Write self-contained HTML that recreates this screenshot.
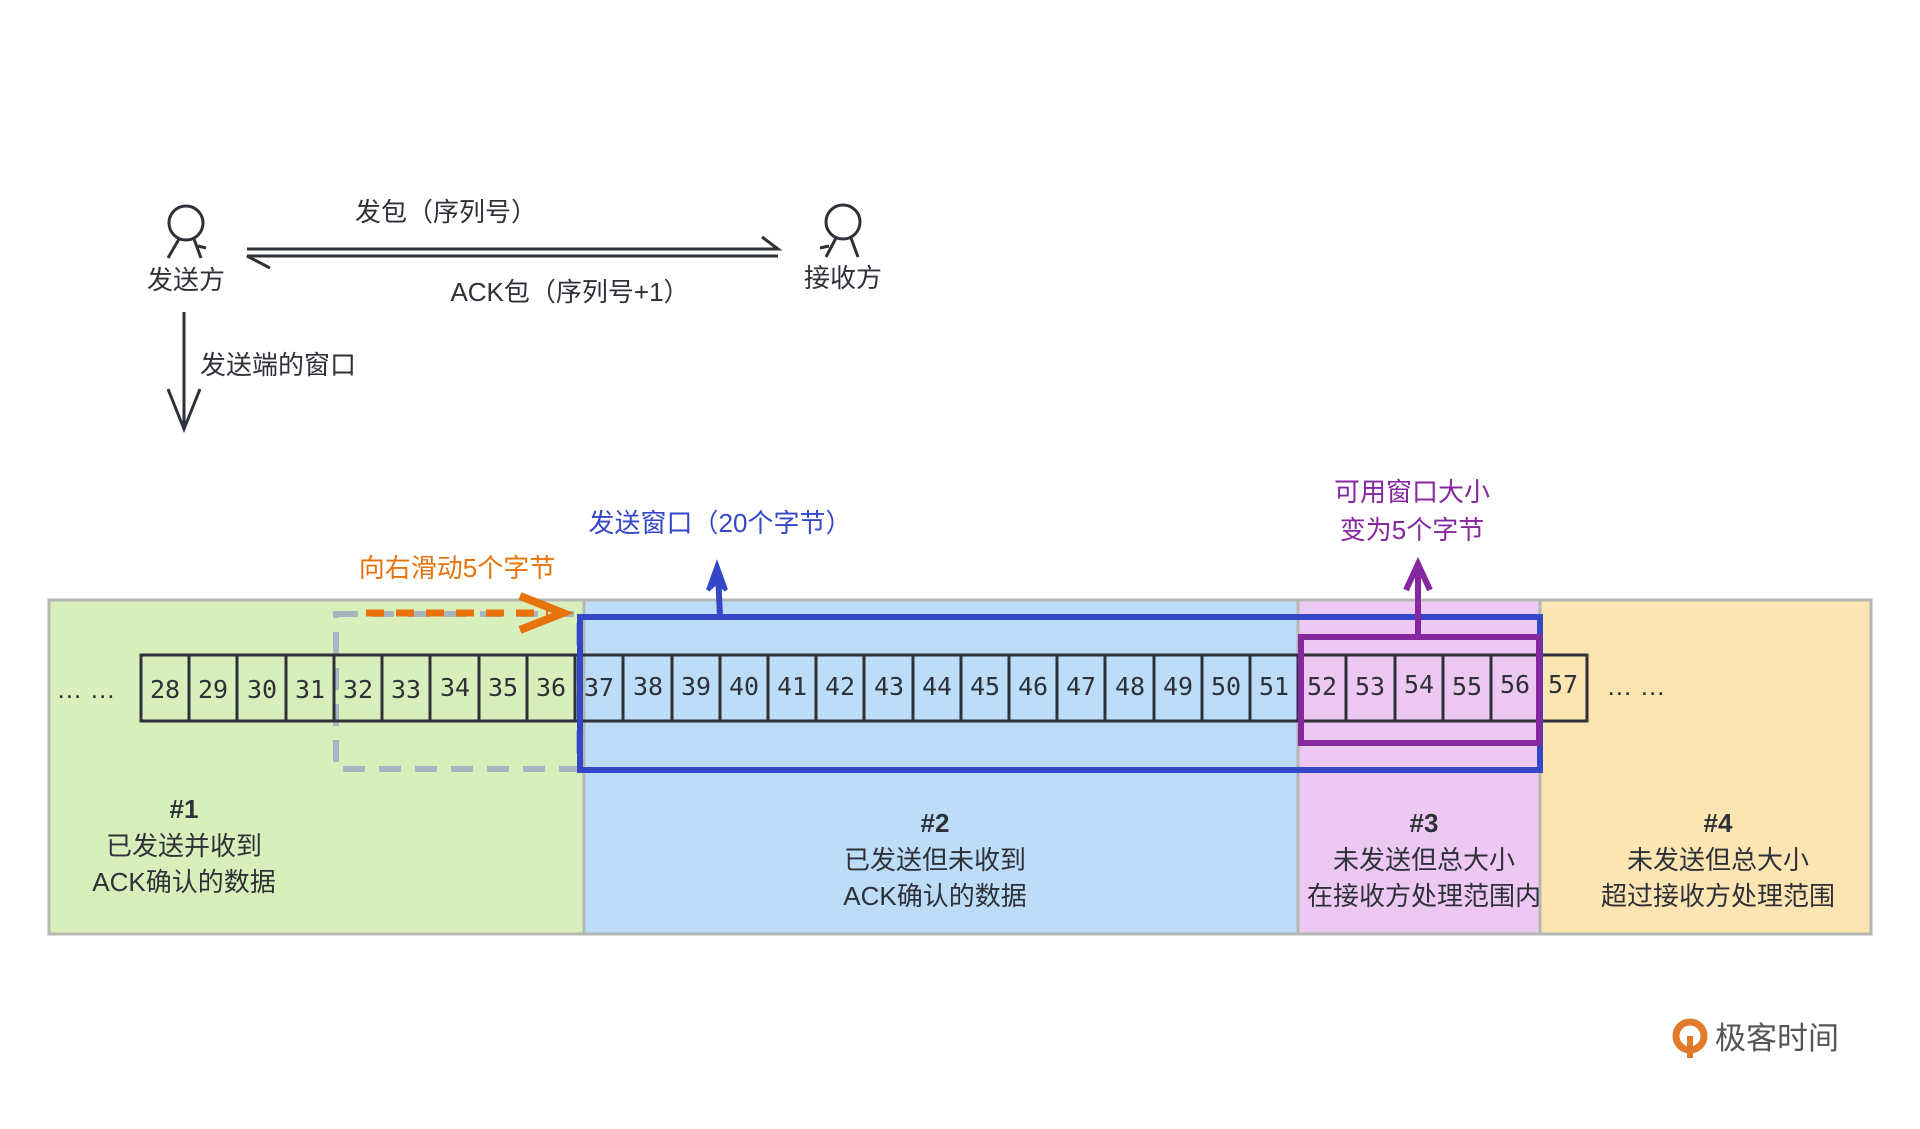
<!DOCTYPE html>
<html><head><meta charset="utf-8"><style>
html,body{margin:0;padding:0;background:#fff;}
svg{display:block;}
text{font-family:"Liberation Sans","Noto Sans CJK SC",sans-serif;}
.n{font-family:"DejaVu Sans Mono","Liberation Mono",monospace;font-size:25px;fill:#2e3138;}
.t{font-size:26px;fill:#2e3138;}
</style></head><body>
<svg width="1920" height="1129" viewBox="0 0 1920 1129" xmlns="http://www.w3.org/2000/svg">
<!-- regions -->
<rect x="49" y="600" width="535" height="334" fill="#d9efbb" stroke="#b3b8b3" stroke-width="3"/>
<rect x="584" y="600" width="714" height="334" fill="#bcdcf7" stroke="#b3b8b3" stroke-width="3"/>
<rect x="1298" y="600" width="242" height="334" fill="#ecc8f2" stroke="#b3b8b3" stroke-width="3"/>
<rect x="1540" y="600" width="331" height="334" fill="#fce5b2" stroke="#b3b8b3" stroke-width="3"/>

<!-- gray dashed -->
<rect x="336" y="614" width="243" height="155" fill="none" stroke="#a5b6c1" stroke-width="6" stroke-dasharray="22,14"/>

<!-- cells -->
<g stroke="#2e3138" stroke-width="3" fill="none">
<rect x="141" y="655" width="1446" height="66"/>
<path d="M189 655v66M237 655v66M286 655v66M334 655v66M382 655v66M430 655v66M479 655v66M527 655v66M575 655v66M623 655v66M672 655v66M720 655v66M768 655v66M816 655v66M864 655v66M913 655v66M961 655v66M1009 655v66M1057 655v66M1105 655v66M1154 655v66M1202 655v66M1250 655v66M1298 655v66M1346 655v66M1395 655v66M1443 655v66M1491 655v66M1539 655v66"/>
</g>
<g class="n" text-anchor="middle">
<text x="165" y="698" class="n">28</text><text x="213" y="698" class="n">29</text><text x="262" y="698" class="n">30</text><text x="310" y="698" class="n">31</text><text x="358" y="698" class="n">32</text><text x="406" y="698" class="n">33</text><text x="455" y="696" class="n">34</text><text x="503" y="696" class="n">35</text><text x="551" y="696" class="n">36</text><text x="599" y="696" class="n">37</text><text x="648" y="695" class="n">38</text><text x="696" y="695" class="n">39</text><text x="744" y="695" class="n">40</text><text x="792" y="695" class="n">41</text><text x="840" y="695" class="n">42</text><text x="889" y="695" class="n">43</text><text x="937" y="695" class="n">44</text><text x="985" y="695" class="n">45</text><text x="1033" y="695" class="n">46</text><text x="1081" y="695" class="n">47</text><text x="1130" y="695" class="n">48</text><text x="1178" y="695" class="n">49</text><text x="1226" y="695" class="n">50</text><text x="1274" y="695" class="n">51</text><text x="1322" y="695" class="n">52</text><text x="1370" y="695" class="n">53</text><text x="1419" y="693" class="n">54</text><text x="1467" y="695" class="n">55</text><text x="1515" y="693" class="n">56</text><text x="1563" y="693" class="n">57</text>
</g>
<text x="86" y="698" class="t" text-anchor="middle" font-size="20">… …</text>
<text x="1636" y="695" class="t" text-anchor="middle" font-size="20">… …</text>

<!-- blue window -->
<rect x="580" y="617" width="960" height="153" fill="none" stroke="#3447c6" stroke-width="6"/>
<path d="M720 617 L718 572" stroke="#3447c6" stroke-width="6" fill="none"/>
<path d="M708 590 L717 565 L726 590 L717 582 Z" fill="#3447c6" stroke="#3447c6" stroke-width="4"/>
<text x="720" y="532" font-size="26" fill="#3447c6" text-anchor="middle">发送窗口（20个字节）</text>

<!-- purple -->
<rect x="1301" y="637" width="238" height="106" fill="none" stroke="#85279f" stroke-width="6"/>
<path d="M1418 637 L1418 568" stroke="#85279f" stroke-width="6" fill="none"/>
<path d="M1406 590 L1418 564 L1430 590" stroke="#85279f" stroke-width="6" fill="none"/>
<text x="1412" y="501" font-size="26" fill="#85279f" text-anchor="middle">可用窗口大小</text>
<text x="1412" y="539" font-size="26" fill="#85279f" text-anchor="middle">变为5个字节</text>

<!-- orange -->
<path d="M366 613 L548 613" stroke="#e8730c" stroke-width="7" stroke-dasharray="18,12"/>
<path d="M520 596 L563 613 L520 630" stroke="#e8730c" stroke-width="8" fill="none"/>
<text x="457" y="577" font-size="26" fill="#e8730c" text-anchor="middle">向右滑动5个字节</text>

<!-- region labels -->
<g class="t" text-anchor="middle">
<text x="184" y="818" class="t" font-weight="bold">#1</text>
<text x="184" y="855" class="t">已发送并收到</text>
<text x="184" y="891" class="t">ACK确认的数据</text>
<text x="935" y="832" class="t" font-weight="bold">#2</text>
<text x="935" y="869" class="t">已发送但未收到</text>
<text x="935" y="905" class="t">ACK确认的数据</text>
<text x="1424" y="832" class="t" font-weight="bold">#3</text>
<text x="1424" y="869" class="t">未发送但总大小</text>
<text x="1424" y="905" class="t">在接收方处理范围内</text>
<text x="1718" y="832" class="t" font-weight="bold">#4</text>
<text x="1718" y="869" class="t">未发送但总大小</text>
<text x="1718" y="905" class="t">超过接收方处理范围</text>
</g>

<!-- top -->
<g stroke="#2e3138" stroke-width="3" fill="none">
<circle cx="186" cy="223" r="17"/>
<path d="M179 239 L168 258 M194 239 L201 258 M198 246 L206 248"/>
<circle cx="843" cy="222" r="17"/>
<path d="M836 238 L826 257 M851 238 L858 257 M829 246 L820 248"/>
<path d="M247 249 L778 249 L762 237"/>
<path d="M778 256 L247 256 L270 268"/>
<path d="M184 312 L184 429 M168 389 L184 429 L200 389"/>
</g>
<text x="186" y="289" class="t" text-anchor="middle">发送方</text>
<text x="843" y="287" class="t" text-anchor="middle">接收方</text>
<text x="446" y="221" class="t" text-anchor="middle">发包（序列号）</text>
<text x="570" y="301" class="t" text-anchor="middle">ACK包（序列号+1）</text>
<text x="200" y="374" class="t">发送端的窗口</text>

<!-- logo -->
<circle cx="1690" cy="1036" r="14" fill="none" stroke="#e07b2c" stroke-width="7"/>
<path d="M1690 1036 L1690 1058" stroke="#e07b2c" stroke-width="6"/>
<text x="1715" y="1049" font-size="31" fill="#555">极客时间</text>
</svg>
</body></html>
